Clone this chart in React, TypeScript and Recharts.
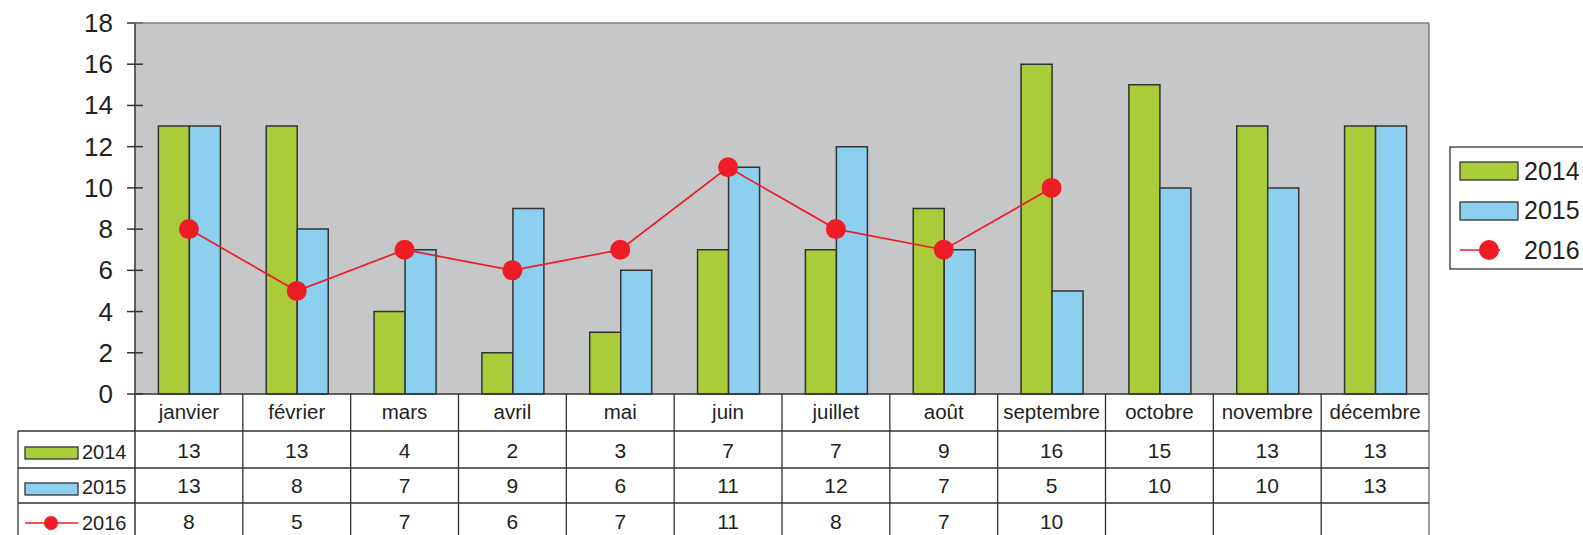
import React from 'react';
import { ComposedChart, Bar, Line, XAxis, YAxis, CartesianGrid } from 'recharts';

// chart values
const months = ['janvier', 'février', 'mars', 'avril', 'mai', 'juin', 'juillet', 'août', 'septembre', 'octobre', 'novembre', 'décembre'];
const values2014 = [13, 13, 4, 2, 3, 7, 7, 9, 16, 15, 13, 13];
const values2015 = [13, 8, 7, 9, 6, 11, 12, 7, 5, 10, 10, 13];
const values2016: (number | null)[] = [8, 5, 7, 6, 7, 11, 8, 7, 10, null, null, null];
const yTicks = [0, 2, 4, 6, 8, 10, 12, 14, 16, 18];

const GREEN = '#aacc3b';
const BLUE = '#8dcfee';
const RED = '#ee1c25';
const PLOT_BG = '#c6c7c9';
const DARK = '#333333';
const TEXT = '#231f20';
const FONT = '"Liberation Sans", Arial, sans-serif';

const W = 1583;
const H = 535;
const PLOT_LEFT = 135;
const PLOT_RIGHT = 1429;
const PLOT_TOP = 23;
const PLOT_BOTTOM = 394;

const data = months.map((m, i) => ({
  month: m,
  y2014: values2014[i],
  y2015: values2015[i],
  y2016: values2016[i],
}));

const YTick = (props: any) => {
  const { x, y, payload } = props;
  return (
    <g>
      <line x1={x + 14} x2={x + 30} y1={y} y2={y} stroke={DARK} strokeWidth={1.5} />
      <text x={x} y={y} dy={9} textAnchor="end" fontSize={26} fill={TEXT} fontFamily={FONT}>
        {payload.value}
      </text>
    </g>
  );
};

const XTick = (props: any) => {
  const { x, y, payload } = props;
  return (
    <text x={x} y={y + 25} textAnchor="middle" fontSize={20.5} fill={TEXT} fontFamily={FONT}>
      {payload.value}
    </text>
  );
};

// data table + legend drawn over the chart
const Overlay = () => {
  const band = (PLOT_RIGHT - PLOT_LEFT) / months.length;
  const rowLines = [431, 468, 503];
  const rows = [
    { label: '2014', vals: values2014, base: 459 },
    { label: '2015', vals: values2015, base: 494 },
    { label: '2016', vals: values2016, base: 530 },
  ];
  return (
    <svg width={W} height={H} style={{ position: 'absolute', left: 0, top: 0, pointerEvents: 'none' }}>
      {/* plot frame */}
      <line x1={PLOT_LEFT} x2={PLOT_RIGHT} y1={PLOT_TOP} y2={PLOT_TOP} stroke="#7f7f7f" strokeWidth={1.5} />
      <line x1={PLOT_RIGHT} x2={PLOT_RIGHT} y1={PLOT_TOP} y2={H} stroke="#7f7f7f" strokeWidth={1.5} />
      {/* table grid */}
      <line x1={PLOT_LEFT} x2={PLOT_LEFT} y1={PLOT_BOTTOM} y2={H} stroke={DARK} strokeWidth={1.5} />
      {months.slice(1).map((_, i) => (
        <line key={i} x1={PLOT_LEFT + band * (i + 1)} x2={PLOT_LEFT + band * (i + 1)} y1={PLOT_BOTTOM} y2={H} stroke={DARK} strokeWidth={1.3} />
      ))}
      {rowLines.map((ly) => (
        <line key={ly} x1={18} x2={PLOT_RIGHT} y1={ly} y2={ly} stroke={DARK} strokeWidth={1.3} />
      ))}
      <line x1={18} x2={18} y1={431} y2={H} stroke={DARK} strokeWidth={1.3} />
      {/* row keys */}
      <rect x={25} y={447} width={53} height={12} fill={GREEN} stroke={DARK} strokeWidth={1.3} />
      <rect x={25} y={483} width={53} height={12} fill={BLUE} stroke={DARK} strokeWidth={1.3} />
      <line x1={25} x2={78} y1={523} y2={523} stroke={RED} strokeWidth={1.5} />
      <circle cx={51} cy={523} r={7} fill={RED} />
      {rows.map((r) => (
        <g key={r.label}>
          <text x={82} y={r.base} fontSize={20} fill={TEXT} fontFamily={FONT}>{r.label}</text>
          {r.vals.map((v, i) =>
            v === null ? null : (
              <text key={i} x={PLOT_LEFT + band * (i + 0.5)} y={r.base - 1} textAnchor="middle" fontSize={21} fill={TEXT} fontFamily={FONT}>
                {v}
              </text>
            )
          )}
        </g>
      ))}
      {/* legend */}
      <rect x={1450} y={147} width={160} height={122} fill="#ffffff" stroke={DARK} strokeWidth={1.3} />
      <rect x={1460} y={162} width={58} height={18} fill={GREEN} stroke={DARK} strokeWidth={1.3} />
      <text x={1524} y={180} fontSize={25} fill={TEXT} fontFamily={FONT}>2014</text>
      <rect x={1460} y={202} width={58} height={18} fill={BLUE} stroke={DARK} strokeWidth={1.3} />
      <text x={1524} y={219} fontSize={25} fill={TEXT} fontFamily={FONT}>2015</text>
      <line x1={1460} x2={1500} y1={250} y2={250} stroke={RED} strokeWidth={1.5} />
      <circle cx={1489} cy={250} r={10} fill={RED} />
      <text x={1524} y={259} fontSize={25} fill={TEXT} fontFamily={FONT}>2016</text>
    </svg>
  );
};

const App: React.FC = () => {
  return (
    <div style={{ position: 'absolute', left: 0, top: 0, width: W, height: H, background: '#ffffff' }}>
      <ComposedChart
        width={W}
        height={H}
        data={data}
        margin={{ top: PLOT_TOP, right: W - PLOT_RIGHT, bottom: 0, left: 0 }}
        barCategoryGap="21.7%"
        barGap={0}
      >
        <CartesianGrid horizontal={false} vertical={false} fill={PLOT_BG} />
        <XAxis
          dataKey="month"
          height={H - PLOT_BOTTOM}
          tickLine={false}
          tickSize={0}
          tickMargin={0}
          axisLine={{ stroke: DARK, strokeWidth: 1.5 }}
          tick={<XTick />}
          interval={0}
        />
        <YAxis
          width={PLOT_LEFT}
          domain={[0, 18]}
          ticks={yTicks}
          tickLine={false}
          tickSize={8}
          tickMargin={14}
          axisLine={{ stroke: DARK, strokeWidth: 1.5 }}
          tick={<YTick />}
          interval={0}
        />
        <Bar dataKey="y2014" fill={GREEN} stroke={DARK} strokeWidth={1.5} isAnimationActive={false} />
        <Bar dataKey="y2015" fill={BLUE} stroke={DARK} strokeWidth={1.5} isAnimationActive={false} />
        <Line
          dataKey="y2016"
          stroke={RED}
          strokeWidth={1.7}
          dot={{ r: 10, fill: RED, stroke: 'none' }}
          activeDot={false}
          isAnimationActive={false}
        />
      </ComposedChart>
      <Overlay />
    </div>
  );
};

export default App;
